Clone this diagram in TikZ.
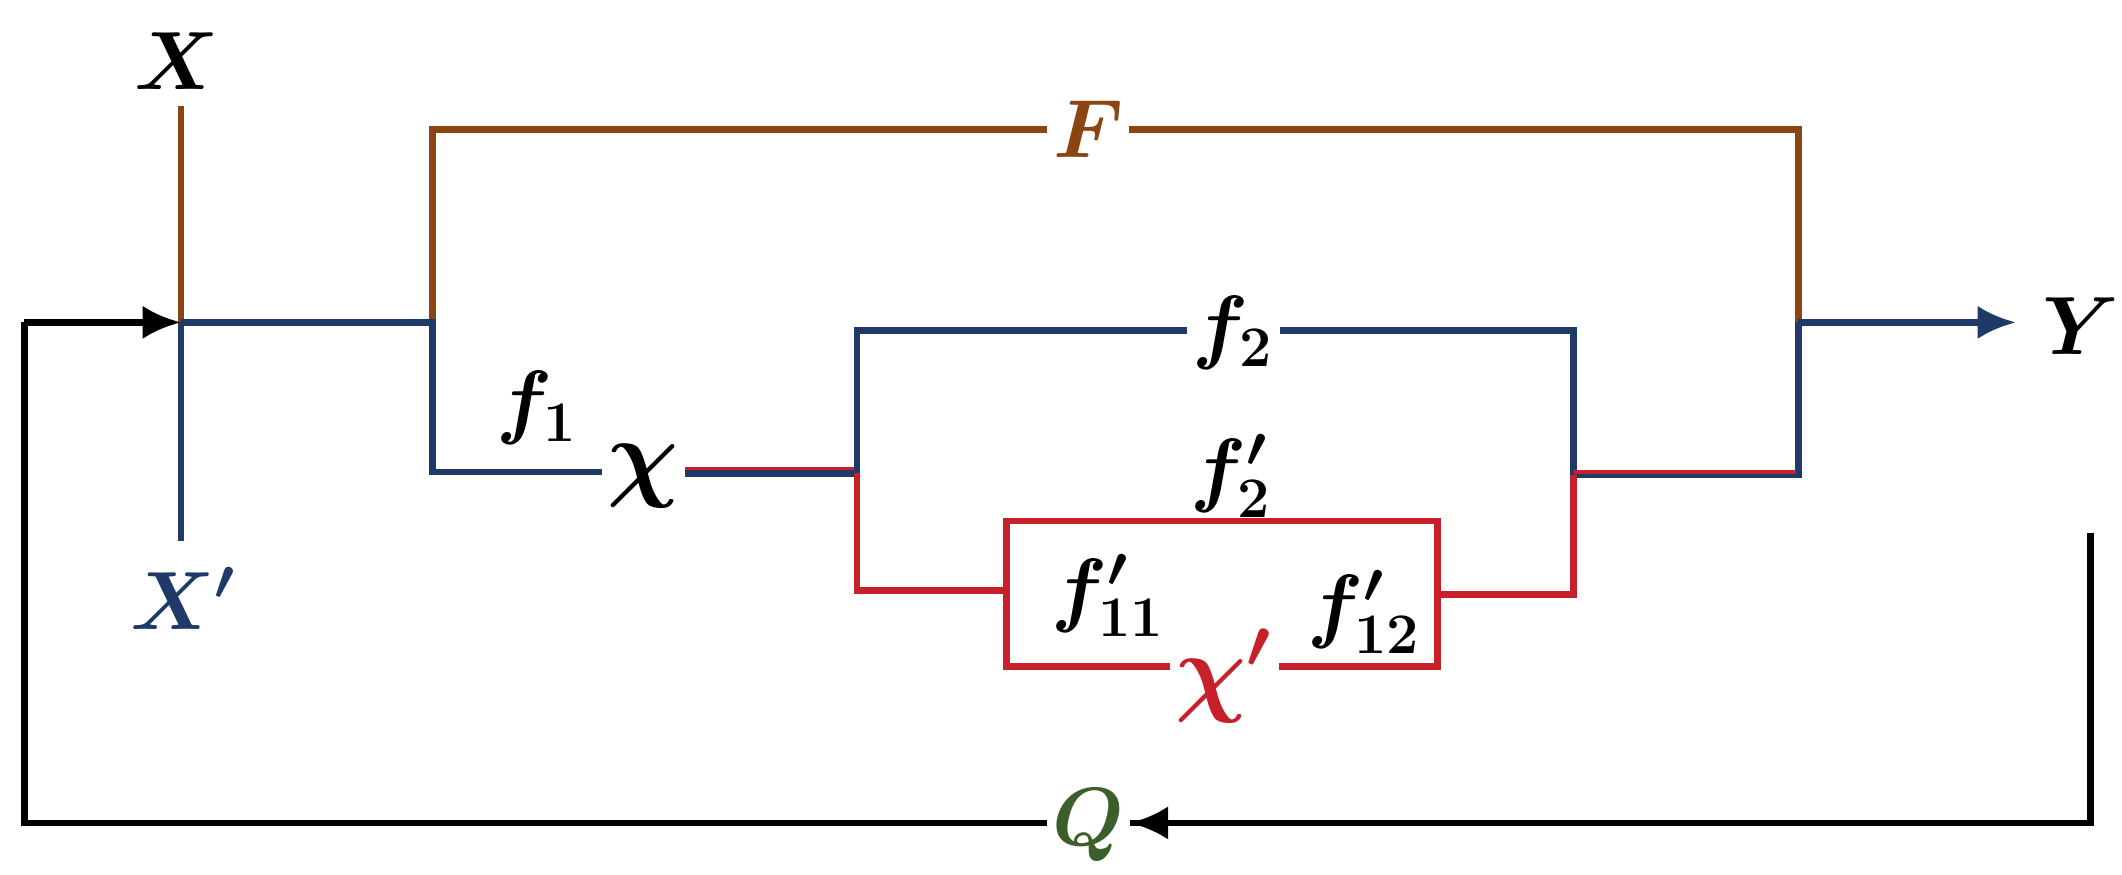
\documentclass[tikz,border=0pt]{standalone}
\usepackage{amsmath,bm}
\usetikzlibrary{arrows.meta}
\definecolor{bl}{HTML}{1F3A68}
\definecolor{br}{HTML}{8B4513}
\definecolor{rd}{HTML}{C8202A}
\definecolor{gr}{HTML}{3B5E2B}
\begin{document}
\begin{tikzpicture}[x=0.01cm,y=-0.01cm,
  lab/.style={font=\fontsize{17}{20}\selectfont, inner sep=1pt},
  B/.style={bl,line width=1.4pt},
  R/.style={rd,line width=1.4pt},
  N/.style={br,line width=1.4pt},
  K/.style={black,line width=1.4pt},
  tip/.style={-{Latex[length=8pt,width=7pt]}}]
\useasboundingbox (0,0) rectangle (1560,643);
\node[lab] (X) at (130,45) {$\bm{X}$};
\node[lab,text=bl] (Xp) at (135,440) {$\bm{X'}$};
\node[lab,text=br] (F) at (800,95) {$\bm{F}$};
\node[lab] (Y) at (1530,240) {$\bm{Y}$};
\node[lab,text=gr] (Q) at (800,607) {$\bm{Q}$};
\node[lab] (f1) at (395,300) {$\bm{f_1}$};
\node[lab,font=\fontsize{22}{24}\selectfont] (chi) at (473,350) {$\bm{\chi}$};
\node[lab] (f2) at (907,245) {$\bm{f_2}$};
\node[lab] (f2p) at (905,350) {$\bm{f'_2}$};
\node[lab] (f11) at (815,438) {$\bm{f'_{11}}$};
\node[lab] (f12) at (1003,450) {$\bm{f'_{12}}$};
\node[lab,text=rd,font=\fontsize{22}{24}\selectfont] (chip) at (900,497) {$\bm{\chi'}$};
\coordinate (J) at (133,237);
\draw[N] (133,78) -- (J);
\draw[B] (J) -- (133,398);
\draw[N] (318,237) -- (318,95) -- (F.west);
\draw[N] (F.east) -- (1322,95) -- (1322,237);
\draw[B] (J) -- (318,237) -- (318,347) -- (chi.west|-0,347);
\draw[R,line width=0.8pt] (chi.east|-0,345) -- (630,345);
\draw[B] (chi.east|-0,348) -- (630,348);
\draw[B] (630,348) -- (630,243) -- (f2.west|-0,243);
\draw[B] (f2.east|-0,243) -- (1157,243) -- (1157,349) -- (1322,349) -- (1322,237);
\draw[R,line width=0.8pt] (1157,347) -- (1320,347);
\draw[B,tip] (1322,237) -- (1482,237);
\draw[R] (630,348) -- (630,434) -- (740,434);
\draw[R] (chip.west|-0,490) -- (740,490) -- (740,383) -- (1057,383) -- (1057,490) -- (chip.east|-0,490);
\draw[R] (1057,437) -- (1157,437) -- (1157,349);
\draw[K] (1537,392) -- (1537,605) -- (Q.east|-0,605);
\draw[K,tip] (Q.east|-0,605) ++(120,0) -- (Q.east|-0,605);
\draw[K] (Q.west|-0,605) -- (18,605) -- (18,237);
\draw[K,tip] (18,237) -- (J);
\end{tikzpicture}
\end{document}
